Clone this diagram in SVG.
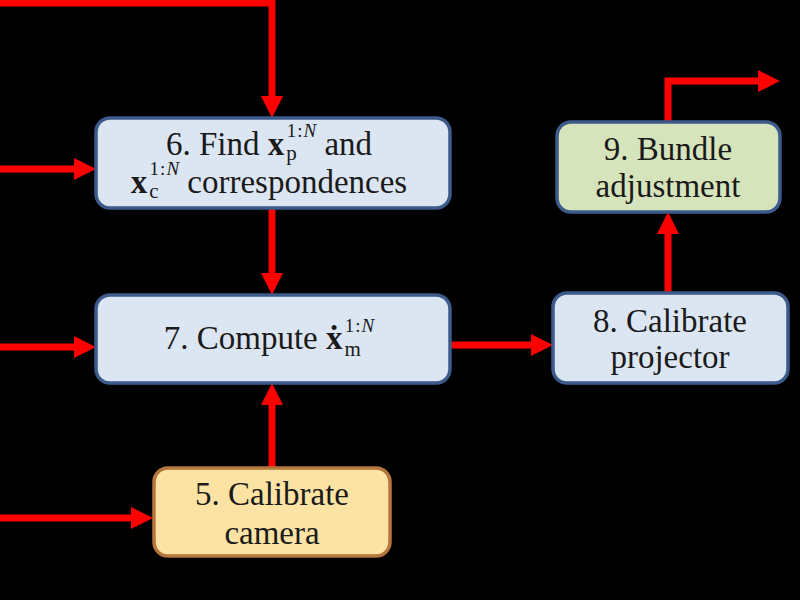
<svg xmlns="http://www.w3.org/2000/svg" width="800" height="600" viewBox="0 0 800 600">
<defs>
<style>
.bx{stroke-width:3.5}
.cb{fill:#DCE6F2;stroke:#3C5A8A}
.cg{fill:#D6E4BC;stroke:#3C5A8A}
.co{fill:#FCE3A4;stroke:#B5773B}
.t{font-family:"Liberation Serif",serif;font-size:33px;fill:#1a1a1a;text-anchor:middle}
.b{font-weight:bold}
.sb{font-size:21px}
.sp{font-size:19px}
.i{font-style:italic}
.ln{fill:none;stroke:#FF0000;stroke-width:7;marker-end:url(#ah)}
</style>
<marker id="ah" markerUnits="userSpaceOnUse" markerWidth="22" markerHeight="22" viewBox="0 0 22 22" refX="2" refY="11" orient="auto">
<path d="M0,0 L22,11 L0,22 z" fill="#FF0000"/>
</marker>
</defs>
<rect x="0" y="0" width="800" height="600" fill="#000"/>
<g id="connectors">
<path class="ln" d="M0,3 H272 V98"/>
<path class="ln" d="M0,169 H76"/>
<path class="ln" d="M0,347 H76"/>
<path class="ln" d="M272,208 V275"/>
<path class="ln" d="M0,518 H133"/>
<path class="ln" d="M272,468 V403"/>
<path class="ln" d="M450,345 H533"/>
<path class="ln" d="M668,293 V232"/>
<path class="ln" d="M668,122 V81 H760"/>
</g>
<g id="node6">
<rect class="bx cb" x="96" y="118" width="354" height="90" rx="14"/>
<text class="t" x="269" y="155">6. Find <tspan class="b">x</tspan><tspan class="sb" dx="2" dy="5">p</tspan><tspan class="sp" dx="-10" dy="-23">1</tspan><tspan class="sp" dx="1">:</tspan><tspan class="sp i" dx="1">N</tspan><tspan dy="18"> and</tspan></text>
<text class="t" x="269" y="193"><tspan class="b">x</tspan><tspan class="sb" dx="2" dy="5">c</tspan><tspan class="sp" dx="-9" dy="-23">1</tspan><tspan class="sp" dx="1">:</tspan><tspan class="sp i" dx="1">N</tspan><tspan dy="18"> correspondences</tspan></text>
</g>
<g id="node7">
<rect class="bx cb" x="96" y="295" width="354" height="88" rx="14"/>
<text class="t" x="269" y="349">7. Compute <tspan class="b">ẋ</tspan><tspan class="sb" dx="2" dy="7">m</tspan><tspan class="sp" dx="-16" dy="-24">1</tspan><tspan class="sp" dx="1">:</tspan><tspan class="sp i" dx="1">N</tspan></text>
</g>
<g id="node5">
<rect class="bx co" x="154" y="468" width="236" height="88" rx="14"/>
<text class="t" x="272" y="505">5. Calibrate</text>
<text class="t" x="272" y="544">camera</text>
</g>
<g id="node8">
<rect class="bx cb" x="553" y="293" width="235" height="90" rx="14"/>
<text class="t" x="670" y="332">8. Calibrate</text>
<text class="t" x="670" y="368">projector</text>
</g>
<g id="node9">
<rect class="bx cg" x="557" y="122" width="223" height="90" rx="14"/>
<text class="t" x="668" y="160">9. Bundle</text>
<text class="t" x="668" y="197">adjustment</text>
</g>
</svg>
